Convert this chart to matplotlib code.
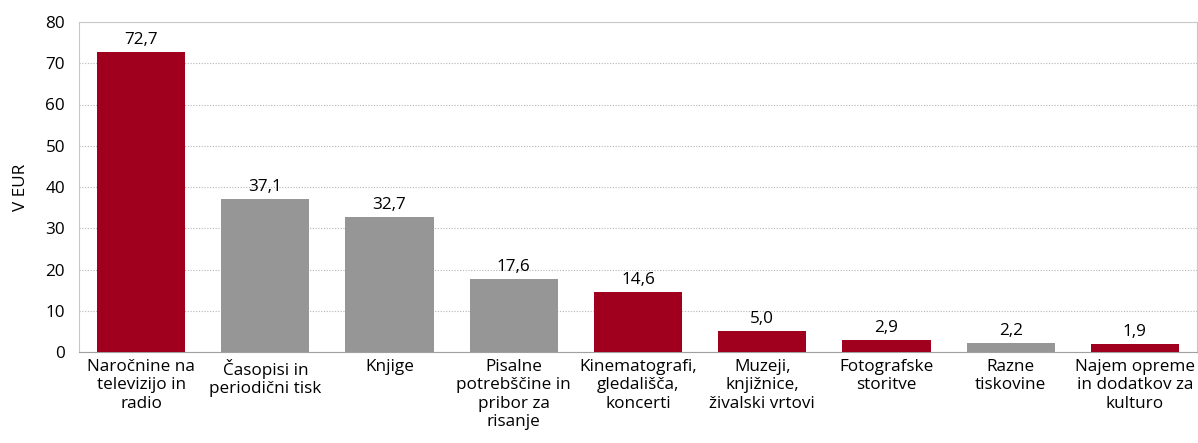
import matplotlib.pyplot as plt
import numpy as np

plt.rcParams['font.family'] = ['Open Sans', 'DejaVu Sans']

categories = ['Naročnine na\ntelevizijo in\nradio', 'Časopisi in\nperiodični tisk', 'Knjige',
              'Pisalne\npotrebščine in\npribor za\nrisanje', 'Kinematografi,\ngledališča,\nkoncerti',
              'Muzeji,\nknjižnice,\nživalski vrtovi', 'Fotografske\nstoritve', 'Razne\ntiskovine',
              'Najem opreme\nin dodatkov za\nkulturo']
values = [72.7, 37.1, 32.7, 17.6, 14.6, 5.0, 2.9, 2.2, 1.9]
highlight = [True, False, False, False, True, True, True, False, True]

red = '#A0001E'
grey = '#969696'
colors = [red if h else grey for h in highlight]

fig = plt.figure(figsize=(11.98, 4.43), dpi=100)
ax = fig.add_axes([79 / 1198, 1 - 352 / 443, (1197 - 79) / 1198, (352 - 22) / 443])

x = np.arange(len(values))
bars = ax.bar(x, values, width=0.71, color=colors, zorder=3)

for xi, v in zip(x, values):
    ax.text(xi, v + 1.0, f'{v:.1f}'.replace('.', ','), ha='center', va='bottom', fontsize=12.3)

ax.set_xlim(-0.5, len(values) - 0.5)
ax.set_ylim(0, 80)
ax.set_yticks(np.arange(0, 81, 10))
ax.yaxis.grid(True, linestyle=(0, (1, 1.5)), color='#b5b5b5', linewidth=0.8, zorder=0)
ax.set_xticks(x)
ax.set_xticklabels(categories, fontsize=12.3, linespacing=1.2)
ax.tick_params(axis='both', length=0, labelsize=12.3)
ax.tick_params(axis='x', pad=5)
ax.tick_params(axis='y', pad=10)
for s in ['left', 'top', 'right']:
    ax.spines[s].set_color('#c8c8c8')
ax.spines['bottom'].set_color('#a0a0a0')
ax.set_ylabel('V EUR', fontsize=12.3, labelpad=12)

fig.savefig('out.png', dpi=100)
